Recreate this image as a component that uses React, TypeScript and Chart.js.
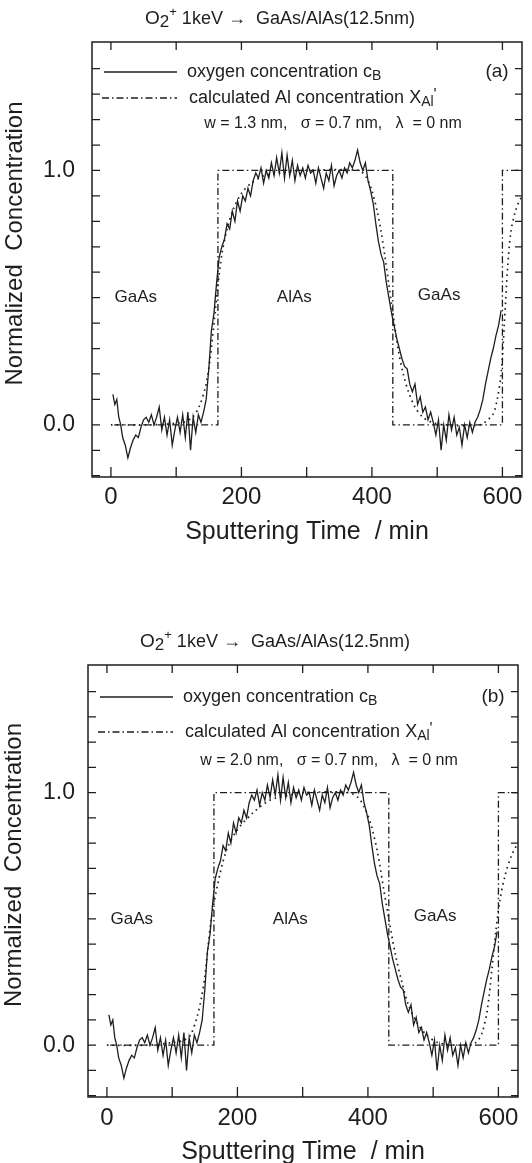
import React, { useEffect, useRef } from "react";
import { Chart, registerables } from "chart.js";

Chart.register(...registerables);

const FONT = '"Liberation Sans", Arial, Helvetica, sans-serif';
const INK = "#1e1e1e";

// ---- data ----
const oxygenTime = [
  3, 6, 9, 12, 15, 18, 22, 26, 30, 34, 38, 42, 46, 50, 54, 58, 62, 66, 70, 74,
  78, 82, 86, 90, 94, 98, 102, 106, 110, 114, 118, 122, 126, 130, 134, 138, 142, 146, 150, 154,
  158, 162, 166, 170, 174, 178, 182, 186, 190, 194, 198, 202, 206, 210, 214, 218, 222, 226, 230, 234,
  238, 242, 246, 250, 254, 258, 262, 266, 270, 274, 278, 282, 286, 290, 294, 298, 302, 306, 310, 314,
  318, 322, 326, 330, 334, 338, 342, 346, 350, 354, 358, 362, 366, 370, 374, 378, 382, 386, 390, 394,
  398, 402, 406, 410, 414, 418, 422, 426, 430, 434, 438, 442, 446, 450, 454, 458, 462, 466, 470, 474,
  478, 482, 486, 490, 494, 498, 502, 506, 510, 514, 518, 522, 526, 530, 534, 538, 542, 546, 550, 554,
  558, 562, 566, 570, 574, 578, 582, 586, 590, 594, 598,
];
const oxygenConc = [
  0.12, 0.08, 0.1, 0.03, 0.0, -0.05, -0.08, -0.13, -0.09, -0.06, -0.04, -0.05, -0.01, 0.02, 0.03, 0.01, 0.04, 0.0, 0.03, 0.07,
  -0.02, 0.03, -0.04, 0.02, -0.08, -0.02, 0.03, -0.03, 0.04, -0.05, 0.05, -0.1, 0.03, -0.03, 0.04, 0.01, 0.05, 0.1, 0.22, 0.37,
  0.44, 0.56, 0.66, 0.7, 0.73, 0.79, 0.77, 0.84, 0.8, 0.88, 0.84, 0.9, 0.88, 0.93, 0.9, 0.96, 0.99, 0.97, 1.01, 0.95,
  1.0, 0.97, 1.03, 0.98, 1.05, 0.99, 1.07, 0.97, 1.06, 0.98, 1.04, 0.96, 1.02, 0.98, 1.01, 0.97, 1.02, 0.99, 1.0, 0.95,
  1.01, 0.97, 0.93, 0.99, 0.96, 1.02, 0.94, 0.98, 1.0, 0.97, 1.01, 0.99, 1.03, 1.01, 1.04, 1.08, 1.03, 1.0, 1.03, 0.96,
  0.92, 0.87, 0.79, 0.72, 0.67, 0.64, 0.56, 0.5, 0.44, 0.39, 0.34, 0.3, 0.26, 0.23, 0.22, 0.16, 0.13, 0.16, 0.08, 0.11,
  0.05, 0.07, 0.02, 0.05, 0.01, -0.04, 0.02, -0.1, 0.0, -0.06, 0.04, -0.02, 0.03, -0.04, -0.01, -0.08, 0.0, -0.05, 0.01, -0.03,
  0.01, 0.03, 0.06, 0.1, 0.16, 0.21, 0.26, 0.3, 0.35, 0.39, 0.45,
];

const stepTime = [5, 164, 164, 432, 432, 600, 600, 640];
const stepConc = [0, 0, 1, 1, 0, 0, 1, 1];

const calcTimeA = [0, 60, 110, 125, 135, 145, 152, 158, 164, 170, 178, 188, 200, 215, 235, 260, 300, 380, 392, 400, 408, 414, 420, 426, 432, 440, 448, 456, 466, 478, 492, 510, 565, 585, 592, 598, 603, 608, 613, 620, 628, 636];
const calcConcA = [0, 0, 0.01, 0.03, 0.07, 0.15, 0.26, 0.4, 0.55, 0.67, 0.77, 0.85, 0.91, 0.95, 0.98, 0.99, 1.0, 1.0, 0.97, 0.92, 0.84, 0.76, 0.66, 0.55, 0.44, 0.3, 0.2, 0.13, 0.07, 0.03, 0.01, 0, 0, 0.04, 0.1, 0.2, 0.4, 0.62, 0.76, 0.84, 0.89, 0.91];

const calcTimeB = [0, 60, 100, 118, 128, 138, 145, 150, 155, 160, 170, 183, 199, 224, 250, 280, 300, 370, 385, 395, 405, 415, 424, 432, 442, 452, 462, 475, 490, 508, 540, 565, 575, 583, 590, 596, 602, 610, 620, 636];
const calcConcB = [0, 0, 0.01, 0.02, 0.04, 0.11, 0.19, 0.27, 0.39, 0.5, 0.64, 0.77, 0.85, 0.92, 0.97, 0.99, 1.0, 1.0, 0.98, 0.94, 0.87, 0.76, 0.62, 0.5, 0.36, 0.25, 0.16, 0.09, 0.04, 0.01, 0, 0.01, 0.05, 0.14, 0.3, 0.45, 0.57, 0.67, 0.75, 0.83];

const xTickValues = [0, 100, 200, 300, 400, 500, 600];
const xLabelValues = [0, 200, 400, 600];
const yTickValues = [-0.2, -0.1, 0, 0.1, 0.2, 0.3, 0.4, 0.5, 0.6, 0.7, 0.8, 0.9, 1.0, 1.1, 1.2, 1.3, 1.4];
const yLabelValues = [0, 1];

const regionNames = ["GaAs", "AlAs", "GaAs"];
const regionTime = [38, 281, 503];
const regionConc = [0.5, 0.5, 0.51];

const titleText = " 1keV \u2192  GaAs/AlAs(12.5nm)";
const legendOxygen = "oxygen concentration c";
const legendCalc = "calculated Al concentration X";
const xAxisTitle = "Sputtering Time  / min";
const yAxisTitle = "Normalized  Concentration";

type Part = { t: string; s: number; dy?: number };

function drawRich(ctx: CanvasRenderingContext2D, parts: Part[], x: number, y: number, align: "left" | "center") {
  let total = 0;
  const widths = parts.map((p) => {
    ctx.font = `${p.s}px ${FONT}`;
    const w = ctx.measureText(p.t).width;
    total += w;
    return w;
  });
  let cx = align === "center" ? x - total / 2 : x;
  ctx.textAlign = "left";
  ctx.textBaseline = "middle";
  parts.forEach((p, i) => {
    ctx.font = `${p.s}px ${FONT}`;
    ctx.fillText(p.t, cx, y + (p.dy || 0));
    cx += widths[i];
  });
}

type PanelCfg = {
  width: number;
  height: number;
  area: { left: number; right: number; top: number; bottom: number };
  calcTime: number[];
  calcConc: number[];
  params: string;
  tag: string;
  rows: number[];
  yPad: number;
  xPad: number;
  titleX: number;
  yTitleX: number;
};

const panels: PanelCfg[] = [
  {
    width: 532,
    height: 580,
    area: { left: 92, right: 522, top: 42, bottom: 477 },
    calcTime: calcTimeA,
    calcConc: calcConcA,
    params: "w = 1.3 nm,   \u03c3 = 0.7 nm,   \u03bb  = 0 nm",
    tag: "(a)",
    rows: [30, 56, 82],
    yPad: 17,
    xPad: 6,
    titleX: 280,
    yTitleX: 15,
  },
  {
    width: 532,
    height: 583,
    area: { left: 88, right: 518, top: 85, bottom: 517 },
    calcTime: calcTimeB,
    calcConc: calcConcB,
    params: "w = 2.0 nm,   \u03c3 = 0.7 nm,   \u03bb  = 0 nm",
    tag: "(b)",
    rows: [32, 67, 96],
    yPad: 13,
    xPad: 7,
    titleX: 275,
    yTitleX: 14,
  },
];

const DASH_DOT = [7, 3, 1.5, 3];

function Panel({ cfg }: { cfg: PanelCfg }) {
  const ref = useRef<HTMLCanvasElement | null>(null);
  useEffect(() => {
    if (!ref.current) return;
    const deco = {
      id: "deco",
      afterDraw(chart: any) {
        const ctx: CanvasRenderingContext2D = chart.ctx;
        const ca = chart.chartArea;
        const xs = chart.scales.x;
        const ys = chart.scales.y;
        ctx.save();
        ctx.strokeStyle = INK;
        ctx.fillStyle = INK;
        ctx.setLineDash([]);
        ctx.lineWidth = 1.5;
        ctx.strokeRect(ca.left, ca.top, ca.right - ca.left, ca.bottom - ca.top);
        ctx.lineWidth = 1.3;
        ctx.beginPath();
        xTickValues.forEach((v) => {
          const px = xs.getPixelForValue(v);
          ctx.moveTo(px, ca.bottom);
          ctx.lineTo(px, ca.bottom - 10);
          ctx.moveTo(px, ca.top);
          ctx.lineTo(px, ca.top + 8);
        });
        yTickValues.forEach((v) => {
          const py = ys.getPixelForValue(v);
          ctx.moveTo(ca.left, py);
          ctx.lineTo(ca.left + 8, py);
          ctx.moveTo(ca.right, py);
          ctx.lineTo(ca.right - 7, py);
        });
        ctx.stroke();

        // title
        drawRich(
          ctx,
          [
            { t: "O", s: 19 },
            { t: "2", s: 17, dy: 3 },
            { t: "+", s: 13, dy: -7 },
            { t: titleText, s: 18 },
          ],
          cfg.titleX,
          ca.top - 23,
          "center"
        );

        // legend
        const r1 = ca.top + cfg.rows[0];
        const r2 = ca.top + cfg.rows[1];
        const r3 = ca.top + cfg.rows[2];
        ctx.lineWidth = 1.3;
        ctx.beginPath();
        ctx.moveTo(ca.left + 12, r1);
        ctx.lineTo(ca.left + 85, r1);
        ctx.stroke();
        ctx.setLineDash(DASH_DOT);
        ctx.beginPath();
        ctx.moveTo(ca.left + 10, r2);
        ctx.lineTo(ca.left + 85, r2);
        ctx.stroke();
        ctx.setLineDash([]);
        drawRich(ctx, [{ t: legendOxygen, s: 18 }, { t: "B", s: 14, dy: 4 }], ca.left + 95, r1, "left");
        drawRich(
          ctx,
          [
            { t: legendCalc, s: 18 },
            { t: "Al", s: 14, dy: 4 },
            { t: "'", s: 16, dy: -2 },
          ],
          ca.left + 97,
          r2,
          "left"
        );
        drawRich(ctx, [{ t: cfg.params, s: 16 }], ca.left + 241, r3, "center");
        drawRich(ctx, [{ t: cfg.tag, s: 19 }], ca.right - 25, r1, "center");

        // region labels
        regionNames.forEach((name, i) => {
          drawRich(ctx, [{ t: name, s: 17 }], xs.getPixelForValue(regionTime[i]), ys.getPixelForValue(regionConc[i]), "center");
        });

        // axis titles
        ctx.font = `25px ${FONT}`;
        ctx.textAlign = "center";
        ctx.textBaseline = "middle";
        ctx.fillText(xAxisTitle, (ca.left + ca.right) / 2, ca.bottom + 55);
        ctx.save();
        ctx.translate(cfg.yTitleX, (ca.top + ca.bottom) / 2 - 16);
        ctx.rotate(-Math.PI / 2);
        ctx.font = `24px ${FONT}`;
        ctx.fillText(yAxisTitle, 0, 0);
        ctx.restore();
        ctx.restore();
      },
    };

    const chart = new Chart(ref.current, {
      type: "line",
      data: {
        datasets: [
          {
            label: "oxygen concentration cB",
            data: oxygenTime.map((t, i) => ({ x: t, y: oxygenConc[i] })),
            borderColor: INK,
            borderWidth: 1.3,
            pointRadius: 0,
            tension: 0,
            fill: false,
          },
          {
            label: "Al step profile",
            data: stepTime.map((t, i) => ({ x: t, y: stepConc[i] })),
            borderColor: INK,
            borderWidth: 1.3,
            borderDash: DASH_DOT,
            pointRadius: 0,
            tension: 0,
            fill: false,
          },
          {
            label: "calculated Al concentration XAl'",
            data: cfg.calcTime.map((t, i) => ({ x: t, y: cfg.calcConc[i] })),
            borderColor: INK,
            borderWidth: 1.7,
            borderDash: [1.6, 4],
            pointRadius: 0,
            tension: 0.3,
            fill: false,
          },
        ],
      },
      options: {
        responsive: false,
        animation: false,
        devicePixelRatio: 1,
        layout: { padding: { left: 0, right: cfg.width - cfg.area.right, top: cfg.area.top, bottom: 0 } },
        plugins: { legend: { display: false }, tooltip: { enabled: false }, title: { display: false } },
        scales: {
          x: {
            type: "linear",
            min: -29,
            max: 630,
            grid: { display: false, drawTicks: false },
            border: { display: false },
            ticks: {
              padding: cfg.xPad,
              font: { family: FONT, size: 24 },
              color: INK,
              maxRotation: 0,
              autoSkip: false,
              callback: (v: any) => String(v),
            },
            afterBuildTicks: (s: any) => {
              s.ticks = xLabelValues.map((v) => ({ value: v }));
            },
            afterFit: (s: any) => {
              s.height = cfg.height - cfg.area.bottom;
            },
          },
          y: {
            type: "linear",
            min: -0.205,
            max: 1.505,
            grid: { display: false, drawTicks: false },
            border: { display: false },
            ticks: {
              padding: cfg.yPad,
              font: { family: FONT, size: 23 },
              color: INK,
              autoSkip: false,
              callback: (v: any) => Number(v).toFixed(1),
            },
            afterBuildTicks: (s: any) => {
              s.ticks = yLabelValues.map((v) => ({ value: v }));
            },
            afterFit: (s: any) => {
              s.width = cfg.area.left;
            },
          },
        },
      } as any,
      plugins: [deco],
    });
    return () => chart.destroy();
  }, [cfg]);
  return <canvas ref={ref} width={cfg.width} height={cfg.height} style={{ display: "block", width: cfg.width, height: cfg.height }} />;
}

export default function App() {
  return (
    <div style={{ position: "absolute", left: 0, top: 0, width: 532, height: 1163, background: "#fff", overflow: "hidden" }}>
      {panels.map((p, i) => (
        <Panel key={i} cfg={p} />
      ))}
    </div>
  );
}
